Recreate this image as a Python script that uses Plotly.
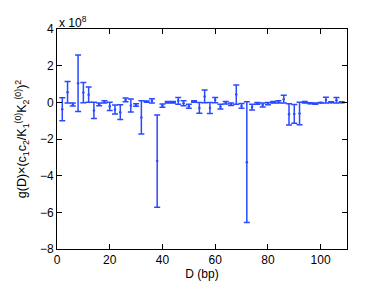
import plotly.graph_objects as go

# D (bp)
D = [2, 4, 6, 8, 10, 12, 14, 16, 18, 20, 22, 24, 26, 28, 30, 32, 34, 36, 38, 40,
     42, 44, 46, 48, 50, 52, 54, 56, 58, 60, 62, 64, 66, 68, 70, 72, 74, 76, 78, 80,
     82, 84, 86, 88, 90, 92, 94, 96, 98, 100, 102, 104, 106, 108]
# upper / lower ends of the error bars (units of 1e8)
upper = [0.25, 1.13, -0.03, 2.58, 1.08, 0.83, 0.0, -0.03, 0.08, 0.0, -0.15, -0.13, 0.23, 0.18, -0.08, 0.08, 0.07, 0.2, -0.69, -0.09,
         0.05, 0.05, 0.26, 0.09, -0.1, 0.08, -0.01, 0.67, -0.01, 0.27, -0.11, 0.04, -0.03, 0.95, -0.07, 0.03, -0.1, -0.01, -0.04, -0.01,
         0.05, 0.08, 0.38, -0.08, -0.12, 0.0, 0.04, -0.02, -0.04, -0.01, 0.28, 0.03, 0.27, 0.03]
lower = [-1.01, -0.03, -0.2, -0.5, -0.02, 0.0, -0.88, -0.18, -0.03, -0.44, -0.63, -0.94, 0.03, -0.53, -0.21, -1.73, 0.0, -0.03, -5.72, -0.27,
         -0.04, -0.03, -0.1, -0.18, -0.32, 0.0, -0.6, -0.02, -0.61, -0.02, -0.36, -0.09, -0.17, -0.1, -0.32, -6.56, -0.42, -0.11, -0.25, -0.13,
         -0.04, -0.03, -0.03, -1.23, -1.14, -1.22, -0.03, -0.08, -0.11, -0.03, -0.03, -0.02, -0.03, -0.02]
center = [(u + l) / 2 for u, l in zip(upper, lower)]
err = [(u - l) / 2 for u, l in zip(upper, lower)]

x_ticks = [0, 20, 40, 60, 80, 100]
y_ticks = [-8, -6, -4, -2, 0, 2, 4]
exponent = 8

blue = "#2a4aff"
fig = go.Figure()
fig.add_trace(go.Scatter(
    x=D, y=center, mode="markers",
    marker=dict(color=blue, size=2.5),
    error_y=dict(type="data", array=err, visible=True, color=blue, thickness=1.5, width=3),
    showlegend=False,
))

font = dict(family="Liberation Sans, Arial, sans-serif", size=12, color="black")
axis_common = dict(
    showgrid=False, zeroline=False, showline=True, linecolor="black", linewidth=1,
    mirror="ticks", ticks="inside", ticklen=5, tickcolor="black", tickfont=font,
)
fig.update_layout(
    width=374, height=281,
    margin=dict(l=49, r=35, t=21, b=32),
    paper_bgcolor="white", plot_bgcolor="white",
    font=font,
    xaxis=dict(range=[0, 110], tickvals=x_ticks, title=dict(text="D (bp)", font=font, standoff=1), **axis_common),
    yaxis=dict(range=[-8, 4], tickvals=y_ticks, ticktext=[str(v).replace("-", "\u2212") for v in y_ticks],
               title=dict(text="g(D)×(c<sub>1</sub>c<sub>2</sub>/K<sub>1</sub><sup>(0)</sup>K<sub>2</sub><sup>(0)</sup>)<sup>2</sup>",
                          font=dict(family=font["family"], size=12.5, color="black"), standoff=10), **axis_common),
    annotations=[dict(text="x 10<sup>%d</sup>" % exponent, xref="paper", yref="paper", x=0, y=1,
                      xanchor="left", yanchor="bottom", showarrow=False, font=dict(family=font["family"], size=12, color="black"),
                      yshift=-3)],
)
fig.write_html("out.html")
